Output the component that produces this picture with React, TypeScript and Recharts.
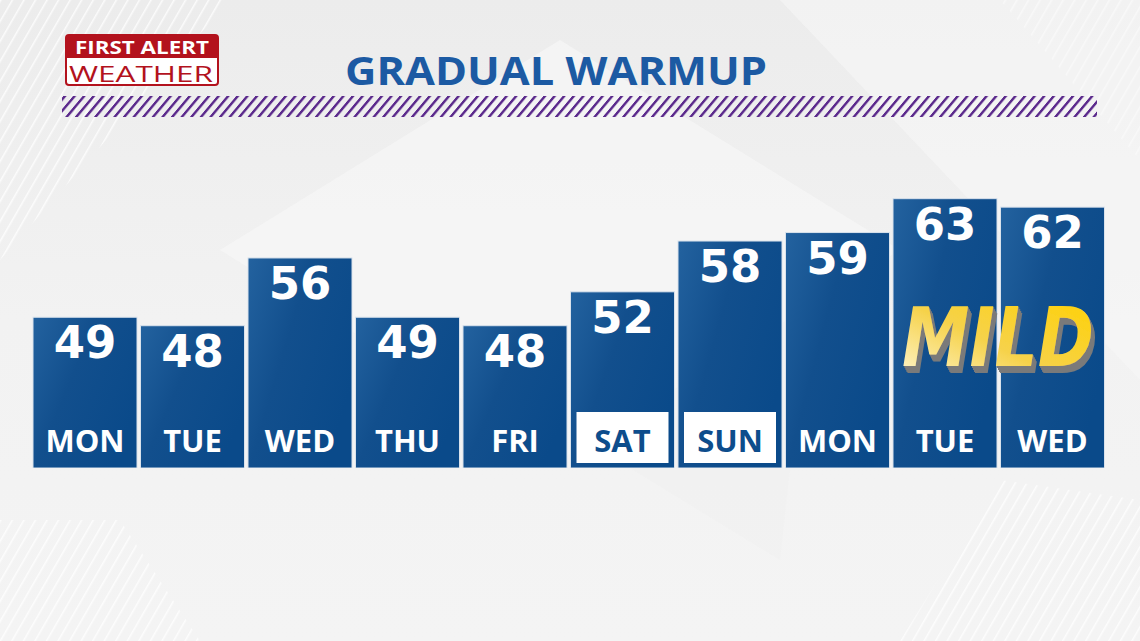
import React from "react";
import { BarChart, Bar, XAxis, YAxis } from "recharts";

const days = ["MON", "TUE", "WED", "THU", "FRI", "SAT", "SUN", "MON", "TUE", "WED"];
const highs = [49, 48, 56, 49, 48, 52, 58, 59, 63, 62];
const weekend = [false, false, false, false, false, true, true, false, false, false];

const data = days.map((d, i) => ({ key: `${d}-${i}`, day: d, high: highs[i], weekend: weekend[i] }));

const W = 1140;
const H = 641;

const BarShape = (props: any) => {
  const { x, y, width, height, payload } = props;
  const cx = x + width / 2;
  const bottom = y + height;
  return (
    <g>
      <rect x={x} y={y} width={width} height={height} fill="url(#barGrad)" stroke="#d9e2ec" strokeWidth={1} />
      <text
        x={cx}
        y={y + 41}
        textAnchor="middle"
        fill="#ffffff"
        fontFamily="'DejaVu Sans', sans-serif"
        fontWeight={700}
        fontSize={45}
      >
        {payload.high}
      </text>
      {payload.weekend && (
        <rect x={x + 6} y={bottom - 56} width={width - 12} height={51} fill="#ffffff" />
      )}
      <text
        x={cx}
        y={bottom - 16}
        textAnchor="middle"
        fill={payload.weekend ? "#0d4d8c" : "#ffffff"}
        fontFamily="'Open Sans', sans-serif"
        fontWeight={700}
        fontSize={31}
      >
        {payload.day}
      </text>
    </g>
  );
};

export default function App() {
  const offs = [1, 2, 3, 4, 5, 6, 7];
  return (
    <div
      style={{
        position: "absolute",
        left: 0,
        top: 0,
        width: W,
        height: H,
        overflow: "hidden",
        background: "linear-gradient(180deg, #ececec 0%, #f2f2f2 50%, #f4f4f4 100%)",
      }}
    >
      <svg width={W} height={H} style={{ position: "absolute", left: 0, top: 0 }}>
        <defs>
          <pattern id="bgStripes" width="10" height="10" patternUnits="userSpaceOnUse" patternTransform="rotate(30)">
            <line x1="0" y1="0" x2="0" y2="10" stroke="#ffffff" strokeWidth="3" opacity="0.8" />
          </pattern>
          <pattern id="hatch" width="9.6" height="20" patternUnits="userSpaceOnUse" patternTransform="skewX(-40)">
            <rect x="0" y="0" width="3.2" height="20" fill="#5b2a8c" />
          </pattern>
        </defs>
        <polygon points="0,0 230,0 0,260" fill="url(#bgStripes)" />
        <polygon points="0,520 0,641 200,641 120,520" fill="url(#bgStripes)" />
        <polygon points="1140,500 1140,641 900,641 1000,480" fill="url(#bgStripes)" />
        <polygon points="1000,0 1140,0 1140,160" fill="url(#bgStripes)" />
        <polygon points="560,40 900,250 560,460 220,250" fill="#f6f6f6" opacity="0.7" />
        <polygon points="630,468 790,468 780,560 " fill="#f0f0f0" opacity="0.6" />
        <polygon points="780,0 1140,0 1140,380 " fill="#f7f7f7" opacity="0.6" />
        {/* logo */}
        <rect x={66} y={35} width={152} height={50} rx={3} fill="#ffffff" stroke="#b3121d" strokeWidth={2} />
        <path d="M69,35 h146 a3,3 0 0 1 3,3 v20 h-152 v-20 a3,3 0 0 1 3,-3 z" fill="#b3121d" />
        <text x={142} y={54} textAnchor="middle" fill="#ffffff" fontFamily="'Open Sans', sans-serif" fontWeight={700} fontSize={17} textLength={134} lengthAdjust="spacingAndGlyphs">
          FIRST ALERT
        </text>
        <text x={141} y={82} textAnchor="middle" fill="#b3121d" fontFamily="'Open Sans', sans-serif" fontWeight={400} fontSize={22} textLength={144} lengthAdjust="spacingAndGlyphs">
          WEATHER
        </text>
        {/* title */}
        <text x={556} y={85} textAnchor="middle" fill="#1c5aa3" fontFamily="'Open Sans', sans-serif" fontWeight={700} fontSize={40} textLength={422} lengthAdjust="spacingAndGlyphs">
          GRADUAL WARMUP
        </text>
        <rect x={62} y={96} width={1035} height={21} fill="url(#hatch)" />
      </svg>
      <div style={{ position: "absolute", left: 0, top: 0 }}>
        <BarChart width={W} height={H} data={data} margin={{ top: 100, right: 34, bottom: 173, left: 31 }} barCategoryGap={2}>
          <defs>
            <linearGradient id="barGrad" x1="0" y1="0" x2="1" y2="0.6">
              <stop offset="0%" stopColor="#23629f" />
              <stop offset="45%" stopColor="#124f8d" />
              <stop offset="100%" stopColor="#0a4a8a" />
            </linearGradient>
          </defs>
          <XAxis dataKey="key" hide />
          <YAxis type="number" domain={[31.2, 74.65]} hide allowDataOverflow />
          <Bar dataKey="high" shape={<BarShape />} isAnimationActive={false} />
        </BarChart>
      </div>
      <svg width={W} height={H} style={{ position: "absolute", left: 0, top: 0, pointerEvents: "none" }}>
        <defs>
          <linearGradient id="mildGrad" x1="0" y1="1" x2="1" y2="0">
            <stop offset="0%" stopColor="#fff8d8" />
            <stop offset="45%" stopColor="#f6d24a" />
            <stop offset="100%" stopColor="#ffd100" />
          </linearGradient>
          <filter id="extrude" x="-10%" y="-20%" width="130%" height="150%">
            {offs.map((o) => (
              <feOffset key={o} in="SourceAlpha" dx={o * 0.5} dy={o} result={`o${o}`} />
            ))}
            <feMerge result="stack">
              {offs.map((o) => (
                <feMergeNode key={o} in={`o${o}`} />
              ))}
            </feMerge>
            <feFlood floodColor="#7a7a7a" result="grey" />
            <feComposite in="grey" in2="stack" operator="in" result="shadow" />
            <feMerge>
              <feMergeNode in="shadow" />
              <feMergeNode in="SourceGraphic" />
            </feMerge>
          </filter>
        </defs>
        <text
          x={998}
          y={366}
          textAnchor="middle"
          fill="url(#mildGrad)"
          filter="url(#extrude)"
          fontFamily="'DejaVu Sans', sans-serif"
          fontWeight={700}
          fontStyle="italic"
          fontSize={82}
          textLength={192}
          lengthAdjust="spacingAndGlyphs"
        >
          MILD
        </text>
      </svg>
    </div>
  );
}
